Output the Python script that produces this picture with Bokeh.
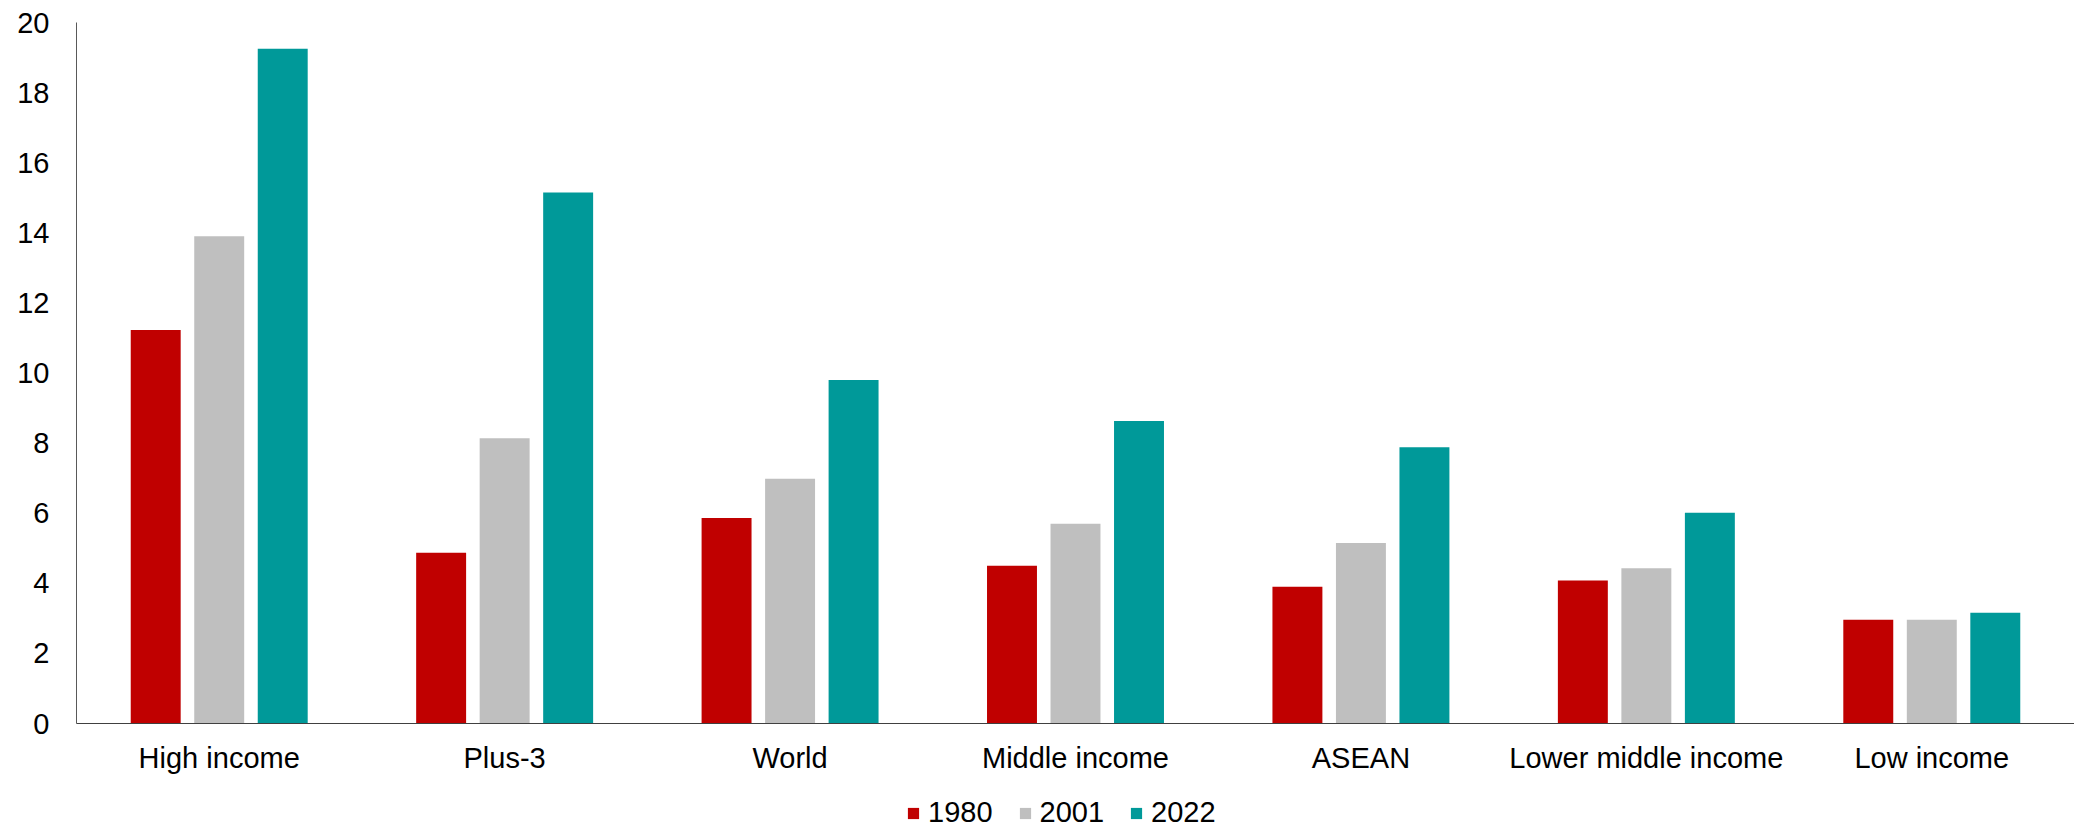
from bokeh.plotting import figure
from bokeh.layouts import column
from bokeh.models import ColumnDataSource, FactorRange, Range1d, Legend, LegendItem, FixedTicker
from bokeh.transform import dodge
from bokeh.embed import file_html
from bokeh.resources import INLINE

categories = ["High income", "Plus-3", "World", "Middle income", "ASEAN",
              "Lower middle income", "Low income"]
years = ["1980", "2001", "2022"]
v1980 = [11.23, 4.87, 5.86, 4.50, 3.90, 4.08, 2.96]
v2001 = [13.90, 8.14, 6.98, 5.70, 5.15, 4.43, 2.96]
v2022 = [19.25, 15.15, 9.80, 8.63, 7.88, 6.01, 3.16]
colors = ["#C00000", "#BFBFBF", "#009999"]
y_ticks = [0, 2, 4, 6, 8, 10, 12, 14, 16, 18, 20]

source = ColumnDataSource(data=dict(cat=categories, y1980=v1980, y2001=v2001, y2022=v2022))

FONT = "Liberation Sans"
FS = "29px"

p = figure(x_range=FactorRange(*categories, range_padding=0), y_range=Range1d(0, 20),
           width=2074, height=776, output_backend="svg", toolbar_location=None,
           min_border_left=76, min_border_right=0, min_border_top=22, min_border_bottom=52)

offset = 0.2225
bw = 0.175
r1 = p.vbar(x=dodge("cat", -offset, range=p.x_range), top="y1980", width=bw, source=source,
            fill_color=colors[0], line_color=None)
r2 = p.vbar(x=dodge("cat", 0.0, range=p.x_range), top="y2001", width=bw, source=source,
            fill_color=colors[1], line_color=None)
r3 = p.vbar(x=dodge("cat", offset, range=p.x_range), top="y2022", width=bw, source=source,
            fill_color=colors[2], line_color=None)

p.grid.visible = False
p.outline_line_color = None
p.background_fill_color = "white"
p.border_fill_color = "white"

p.yaxis.ticker = FixedTicker(ticks=y_ticks)
p.yaxis.major_tick_line_color = None
p.yaxis.minor_tick_line_color = None
p.yaxis.major_tick_out = 0
p.yaxis.major_tick_in = 0
p.yaxis.major_label_standoff = 27
p.yaxis.axis_line_color = "#595959"
p.yaxis.major_label_text_font = FONT
p.yaxis.major_label_text_font_size = FS
p.yaxis.major_label_text_color = "black"

p.xaxis.major_tick_line_color = None
p.xaxis.minor_tick_line_color = None
p.xaxis.major_tick_out = 0
p.xaxis.major_tick_in = 0
p.xaxis.major_label_standoff = 18
p.xaxis.axis_line_color = "#404040"
p.xaxis.major_label_text_font = FONT
p.xaxis.major_label_text_font_size = FS
p.xaxis.major_label_text_color = "black"

# legend strip (separate small figure below the chart); zero-height swatch carriers
lg = figure(width=2074, height=53, output_backend="svg", toolbar_location=None,
            x_range=Range1d(0, 1), y_range=Range1d(0, 1),
            x_axis_type=None, y_axis_type=None, min_border=0)
lg.grid.visible = False
lg.outline_line_color = None
lg.background_fill_color = "white"
lg.border_fill_color = "white"
swatch_src = ColumnDataSource(data=dict(x=[0.5], top=[0.0]))
items = []
for yr, c in zip(years, colors):
    rr = lg.vbar(x="x", top="top", width=0.01, source=swatch_src, fill_color=c, line_color=None)
    items.append(LegendItem(label=yr, renderers=[rr]))

legend = Legend(items=items, orientation="horizontal", location=(830, 0))
legend.glyph_width = 14
legend.glyph_height = 14
legend.label_standoff = 8
legend.spacing = 25
legend.padding = 0
legend.margin = 0
legend.border_line_color = None
legend.background_fill_alpha = 0
legend.label_text_font = FONT
legend.label_text_font_size = FS
legend.label_text_color = "black"
lg.add_layout(legend, "center")

layout = column(p, lg, spacing=0)
open("out.html", "w").write(file_html(layout, INLINE))
